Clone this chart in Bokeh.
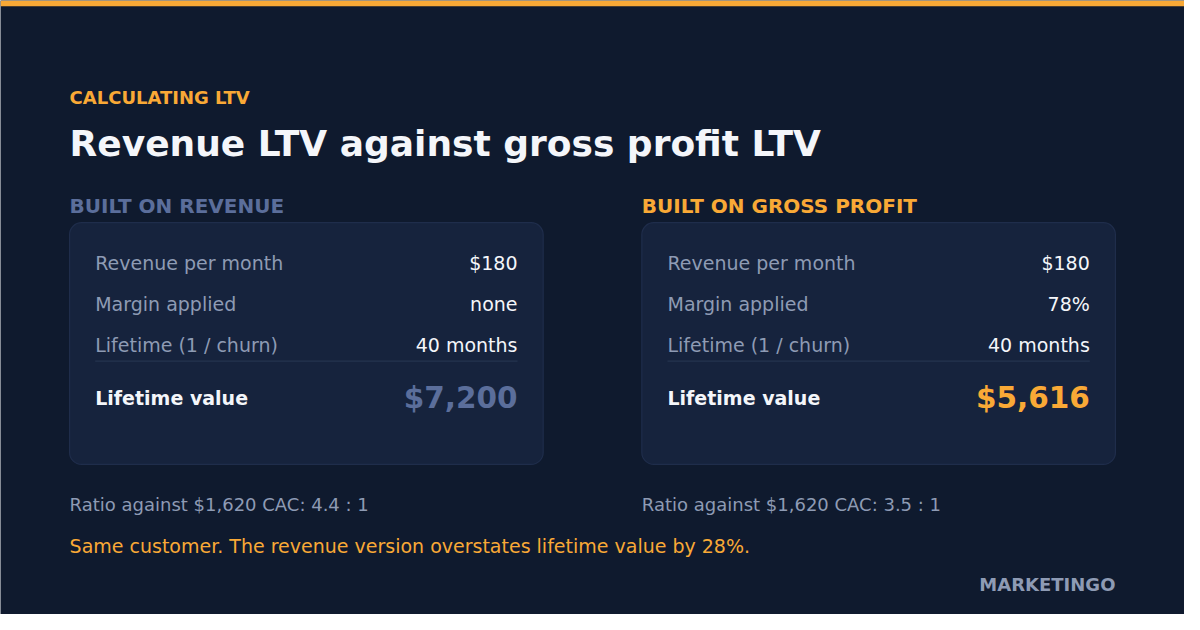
from bokeh.core.properties import value
from bokeh.embed import file_html
from bokeh.models import Range1d
from bokeh.plotting import figure
from bokeh.resources import INLINE

# texts and values
kicker = "CALCULATING LTV"
title = "Revenue LTV against gross profit LTV"
card_titles = ["BUILT ON REVENUE", "BUILT ON GROSS PROFIT"]
row_labels = ["Revenue per month", "Margin applied", "Lifetime (1 / churn)"]
revenue_values = ["$180", "none", "40 months"]
profit_values = ["$180", "78%", "40 months"]
ltv_label = "Lifetime value"
ltv_values = ["$7,200", "$5,616"]
ratios = ["Ratio against $1,620 CAC: 4.4 : 1", "Ratio against $1,620 CAC: 3.5 : 1"]
footnote = "Same customer. The revenue version overstates lifetime value by 28%."
brand = "MARKETINGO"

# colours
BG = "#0F1A2E"
CARD = "#16233D"
CARD_EDGE = "#1F2D4B"
ORANGE = "#F9A936"
SLATE = "#5B6E9B"
MUTED = "#8E9BB4"
WHITE = "#F4F6FA"
FONT = "DejaVu Sans"

# page is 1200x630 in data units, drawn a bit smaller to fit the 8px margin
W, H = 1184, 614

p = figure(width=W, height=H, x_range=Range1d(0, 1200), y_range=Range1d(630, 0),
           output_backend="svg", toolbar_location=None, tools="",
           min_border=0, outline_line_color=None,
           background_fill_color=BG, border_fill_color=BG)
p.axis.visible = False
p.grid.visible = False


def txt(x, y, t, size, color, bold=False, align="left"):
    p.text(x=[x], y=[y], text=[t], text_font=value(FONT),
           text_font_size=f"{size}px", text_color=color,
           text_font_style="bold" if bold else "normal",
           text_align=align, text_baseline="alphabetic")


# orange strip at the top
p.quad(left=[0], right=[1200], top=[0], bottom=[6], fill_color=ORANGE, line_color=None)

txt(70, 99.5, kicker, 18, ORANGE, bold=True)
txt(70, 147, title, 36, WHITE, bold=True)

card_x = [70, 650]
card_values = [revenue_values, profit_values]
accent = [SLATE, ORANGE]
row_y = [269, 311, 353]

for i, x0 in enumerate(card_x):
    txt(x0, 211, card_titles[i], 20, accent[i], bold=True)
    p.quad(left=[x0], right=[x0 + 480], top=[228], bottom=[476],
           fill_color=CARD, line_color=CARD_EDGE, line_width=1.2, border_radius=12)
    for label, val, y in zip(row_labels, card_values[i], row_y):
        txt(x0 + 26, y, label, 19, MUTED)
        txt(x0 + 454, y, val, 19, WHITE, align="right")
    p.segment(x0=[x0 + 26], y0=[370], x1=[x0 + 454], y1=[370],
              line_color="#25344F", line_width=1.2)
    txt(x0 + 26, 408, ltv_label, 19, WHITE, bold=True)
    txt(x0 + 454, 408, ltv_values[i], 29.5, accent[i], bold=True, align="right")
    txt(x0, 517, ratios[i], 18, MUTED)

txt(70, 560, footnote, 19, ORANGE)
txt(1130, 599, brand, 18, MUTED, bold=True, align="right")

open("out.html", "w").write(file_html(p, INLINE))
